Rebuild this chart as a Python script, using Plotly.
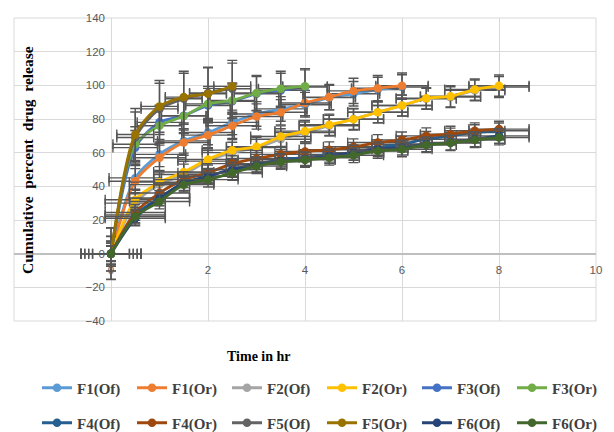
import plotly.graph_objects as go

# ---- data ----
time_hr = [0, 0.5, 1, 1.5, 2, 2.5, 3, 3.5, 4, 4.5, 5, 5.5, 6, 6.5, 7, 7.5, 8]

f1_of = [0, 45, 59, 67, 72, 78, 83, 86, 88.5, 92.7, 95, 97.5, 99]
f1_or = [0, 43, 57, 66, 70.4, 76, 81.5, 84, 89.5, 93, 96.7, 98.3, 99.8]
f2_of = [0, 30, 41, 47, 55, 60, 63, 68, 72, 76, 80, 84, 88, 92, 93, 97, 99]
f2_or = [0, 32, 42.5, 48.5, 56, 61.5, 63.5, 69.6, 72.8, 76.6, 79.8, 84, 88, 92.3, 93.5, 97.5, 99.8]
f3_of = [0, 63, 78, 82, 88, 90.5, 95, 97, 99]
f3_or = [0, 65, 76, 81.8, 89, 91, 95.5, 98, 99.5]
f4_of = [0, 23, 33, 42, 46, 50, 53, 56, 57, 59, 60, 63, 65, 68, 70, 72, 73]
f4_or = [0, 24.5, 36, 44, 48, 53.5, 56.5, 59, 60.7, 61.7, 63.5, 66, 67.6, 70, 71, 73, 74]
f5_of = [0, 69, 86, 92, 95.5, 98]
f5_or = [0, 70.8, 87.5, 93, 95, 99.4]
f6_of = [0, 21, 33, 42, 46, 50, 53, 55, 56, 58, 60, 62, 63, 65, 66, 68, 70]
f6_or = [0, 22, 31, 41, 44, 48, 52, 54.5, 55.7, 57, 58.5, 61, 62, 64.5, 65.7, 67.5, 69]

series_names = ["F1(Of)", "F1(Or)", "F2(Of)", "F2(Or)", "F3(Of)", "F3(Or)",
                "F4(Of)", "F4(Or)", "F5(Of)", "F5(Or)", "F6(Of)", "F6(Or)"]
series_values = [f1_of, f1_or, f2_of, f2_or, f3_of, f3_or,
                 f4_of, f4_or, f5_of, f5_or, f6_of, f6_or]
# error bar sizes (hr, %)
x_errors = [0.54, 0.54, 0.62, 0.62, 0.46, 0.46, 0.62, 0.62, 0.38, 0.38, 0.62, 0.62]
y_errors = [7.3, 7.5, 6.2, 6.3, 10.2, 10.4, 4.6, 4.7, 15.2, 15.4, 4.4, 4.4]

# ---- styles ----
colors = ["#5B9BD5", "#ED7D31", "#A5A5A5", "#FFC000", "#4472C4", "#70AD47",
          "#255E91", "#9E480E", "#636363", "#997300", "#264478", "#43682B"]
legend_ids = ["legend"] * 6 + ["legend2"] * 6

fig = go.Figure()
for name, vals, col, ex, ey, leg in zip(series_names, series_values, colors,
                                         x_errors, y_errors, legend_ids):
    fig.add_trace(go.Scatter(
        x=time_hr[:len(vals)], y=vals, name=name, mode="lines+markers",
        line=dict(color=col, width=2.8, shape="spline", smoothing=0.8),
        marker=dict(color=col, size=8.5),
        error_x=dict(type="constant", value=ex, color="#555555", thickness=1.4, width=5),
        error_y=dict(type="constant", value=ey, color="#555555", thickness=1.4, width=5),
        legend=leg,
    ))

tickfont = dict(family="Liberation Sans", size=11.5, color="#595959")
legfont = dict(family="Liberation Serif", size=15, color="#404040", weight="bold")

fig.update_layout(
    width=614, height=432,
    margin=dict(l=14, r=16, t=18, b=111),
    paper_bgcolor="white", plot_bgcolor="white",
    showlegend=True,
    xaxis=dict(range=[-2, 10], tickvals=[0, 2, 4, 6, 8, 10], showgrid=True,
               gridcolor="#D9D9D9", gridwidth=1, zeroline=False, showline=False,
               anchor="free", position=40 / 180, tickfont=tickfont,
               ticklabelstandoff=8),
    yaxis=dict(range=[-40, 140], tickvals=[-40, -20, 0, 20, 40, 60, 80, 100, 120, 140],
               showgrid=True, gridcolor="#D9D9D9", gridwidth=1, zeroline=True,
               zerolinecolor="#BFBFBF", zerolinewidth=1.5, showline=False,
               anchor="free", position=2 / 12, tickfont=tickfont,
               ticklabelstandoff=6),
    legend=dict(orientation="h", xref="container", yref="container",
                x=37 / 614, y=1 - 388 / 432, xanchor="left", yanchor="middle",
                entrywidth=50, font=legfont, bgcolor="rgba(0,0,0,0)",
                traceorder="normal"),
    legend2=dict(orientation="h", xref="container", yref="container",
                 x=37 / 614, y=1 - 423 / 432, xanchor="left", yanchor="middle",
                 entrywidth=50, font=legfont, bgcolor="rgba(0,0,0,0)",
                 traceorder="normal"),
    shapes=[dict(type="rect", xref="paper", yref="paper", x0=0, x1=1, y0=0, y1=1,
                 line=dict(color="#D9D9D9", width=1), layer="below")],
    annotations=[
        dict(text="Cumulative  percent  drug  release", xref="paper", yref="paper",
             x=(27 - 14) / 584, y=(321 - 160) / 303, textangle=-90, showarrow=False,
             font=dict(family="Liberation Serif", size=15.5, color="#000000", weight="bold"),
             xanchor="center", yanchor="middle"),
        dict(text="Time in hr", xref="paper", yref="paper",
             x=(260 - 14) / 584, y=(321 - 356) / 303, showarrow=False,
             font=dict(family="Liberation Serif", size=14, color="#000000", weight="bold"),
             xanchor="center", yanchor="middle"),
    ],
)

fig.write_html("out.html")
